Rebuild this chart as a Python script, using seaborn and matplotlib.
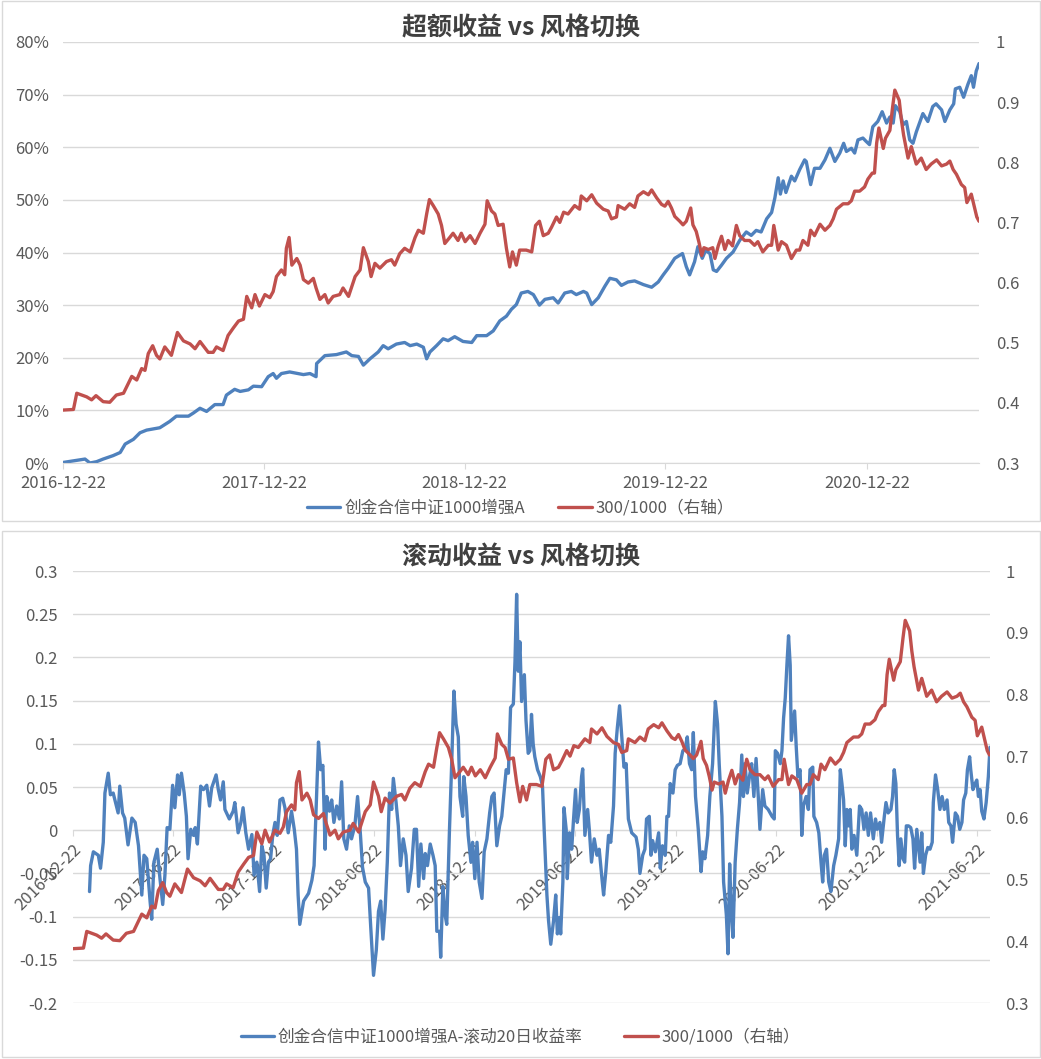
import numpy as np
import pandas as pd
import seaborn as sns
import matplotlib.pyplot as plt
import matplotlib.dates as mdates
from matplotlib.patches import Rectangle
from matplotlib.ticker import FuncFormatter

start = pd.Timestamp('2016-12-22')

# 300/1000 ratio (right axis in both panels), calendar days after start
ratio_day = [0, 19, 25, 43, 52, 60, 73, 85, 97, 110, 125, 134, 143, 149, 155, 163, 170, 176, 185, 197,
             208, 219, 231, 240, 249, 264, 273, 279, 291, 300, 310, 319, 328, 334, 343, 349, 357, 367, 376, 382,
             388, 397, 403, 406, 411, 416,
             425, 431, 437, 446, 455, 460, 467, 476, 482, 491, 503, 509, 519, 531, 540, 546, 555, 560, 567, 576,
             588, 597, 603, 612, 621, 631, 640, 646, 655, 661, 666, 673, 682, 688, 694, 703, 709, 718, 724, 731,
             740, 749, 758, 767, 771, 779, 785, 791, 800, 806, 812, 817, 824, 830,
             842, 852, 859, 866, 873, 882, 888, 897, 903, 910, 918, 930, 939, 942, 952, 961, 970, 982, 991, 997,
             1006, 1009, 1021, 1030, 1039, 1045, 1055, 1064, 1070, 1079, 1088, 1094, 1100, 1106, 1112, 1121, 1127, 1133, 1141, 1145,
             1151, 1156, 1161, 1165, 1173, 1181, 1185, 1191, 1197, 1203, 1209, 1217, 1224, 1230, 1239, 1248,
             1257, 1263, 1272, 1282, 1288, 1292, 1300, 1306, 1315, 1324, 1333, 1339, 1345, 1354, 1359, 1366, 1376, 1385, 1394, 1400,
             1406, 1418, 1427, 1433, 1439, 1448, 1457, 1463, 1471, 1475, 1479, 1483, 1491, 1495, 1503, 1508, 1512, 1520, 1524, 1528,
             1536, 1542, 1551, 1560, 1569, 1578, 1588, 1597, 1606, 1612, 1618, 1624, 1633, 1639, 1643, 1651, 1656, 1661, 1665]
ratio_val = [0.388, 0.389, 0.416, 0.410, 0.405, 0.412, 0.402, 0.401, 0.413, 0.416, 0.444, 0.438, 0.457, 0.454, 0.482, 0.495, 0.479, 0.473, 0.493, 0.479,
             0.517, 0.503, 0.498, 0.490, 0.502, 0.484, 0.484, 0.493, 0.487, 0.512, 0.525, 0.536, 0.539, 0.577, 0.558, 0.580, 0.561, 0.580, 0.575, 0.585,
             0.610, 0.621, 0.613, 0.657, 0.675, 0.629,
             0.640, 0.629, 0.605, 0.599, 0.607, 0.591, 0.572, 0.580, 0.566, 0.577, 0.580, 0.591, 0.577, 0.610, 0.621, 0.658, 0.635, 0.610, 0.632, 0.624,
             0.635, 0.638, 0.629, 0.648, 0.657, 0.651, 0.675, 0.687, 0.682, 0.714, 0.738, 0.728, 0.714, 0.695, 0.665, 0.675, 0.682, 0.670, 0.682, 0.668,
             0.678, 0.665, 0.682, 0.697, 0.736, 0.719, 0.714, 0.695, 0.697, 0.657, 0.626, 0.651, 0.629, 0.654,
             0.654, 0.651, 0.695, 0.702, 0.678, 0.682, 0.692, 0.709, 0.700, 0.717, 0.714, 0.728, 0.722, 0.744, 0.736, 0.746, 0.732, 0.722, 0.719, 0.706,
             0.709, 0.728, 0.722, 0.731, 0.725, 0.744, 0.751, 0.746, 0.754, 0.741, 0.730, 0.727, 0.735, 0.724, 0.710, 0.702, 0.696, 0.702, 0.724, 0.696,
             0.685, 0.667, 0.645, 0.658, 0.655, 0.658, 0.640, 0.661, 0.677, 0.655, 0.670, 0.661, 0.695, 0.678, 0.670, 0.670,
             0.662, 0.668, 0.651, 0.662, 0.662, 0.695, 0.654, 0.668, 0.662, 0.640, 0.654, 0.654, 0.670, 0.662, 0.687, 0.678, 0.697, 0.687, 0.695, 0.706,
             0.722, 0.731, 0.731, 0.736, 0.752, 0.752, 0.759, 0.772, 0.782, 0.782, 0.832, 0.857, 0.823, 0.840, 0.853, 0.892, 0.920, 0.903, 0.870, 0.845,
             0.807, 0.826, 0.797, 0.807, 0.788, 0.797, 0.804, 0.794, 0.797, 0.802, 0.788, 0.780, 0.763, 0.758, 0.733, 0.747, 0.728, 0.709, 0.702]

# cumulative excess return of the fund, %
excess_day = [0, 19, 40, 49, 61, 73, 91, 104, 113, 128, 140, 152, 176, 194, 206, 228, 237, 249, 261, 276,
              291, 297, 312, 322, 337, 346, 361, 373, 382, 388, 397, 412,
              437, 449, 460, 461, 476, 497, 515, 525, 537, 546, 558, 573, 582, 591, 606, 621, 631, 643, 655, 661,
              667, 679, 691, 700, 712, 727, 743, 752, 770, 782, 794, 806, 815, 824, 833,
              845, 855, 866, 876, 891, 900, 912, 924, 933, 946, 952, 961, 973, 985, 994, 1006, 1015, 1027, 1039, 1055,
              1070, 1082, 1091, 1100, 1112, 1126, 1133, 1139, 1148, 1154, 1162, 1168, 1176, 1182, 1188, 1197, 1206, 1218, 1230, 1242, 1251,
              1260, 1269, 1279, 1288, 1294, 1300, 1304, 1309, 1314, 1324, 1330, 1339, 1348, 1351, 1359, 1366, 1376, 1385, 1394, 1403,
              1412, 1419, 1424, 1433, 1439, 1445, 1454, 1460, 1466, 1472, 1481, 1489, 1497, 1503, 1509, 1513, 1521, 1527, 1533, 1539,
              1545, 1551, 1563, 1572, 1581, 1587, 1597, 1603, 1612, 1619, 1622, 1630, 1637, 1645, 1651, 1655, 1660, 1665]
excess_pct = [0.1, 0.4, 0.75, 0.0, 0.25, 0.75, 1.4, 2.0, 3.6, 4.5, 5.75, 6.25, 6.7, 7.9, 8.9, 8.9, 9.5, 10.4, 9.8, 11.1,
              11.1, 12.9, 14.0, 13.6, 13.9, 14.6, 14.5, 16.4, 17.0, 16.1, 17.0, 17.3,
              16.8, 17.0, 16.4, 18.9, 20.4, 20.6, 21.1, 20.4, 20.25, 18.6, 19.8, 21.1, 22.3, 21.7, 22.6, 22.9, 22.3, 22.6, 22.0, 19.8,
              21.1, 22.3, 23.6, 23.25, 24.0, 23.1, 22.9, 24.2, 24.2, 25.1, 27.0, 27.9, 29.2, 30.1, 32.3,
              32.6, 32.0, 30.0, 31.1, 31.4, 30.4, 32.3, 32.6, 32.0, 32.6, 32.3, 30.1, 31.4, 33.6, 35.1, 34.8, 33.75, 34.4, 34.6, 33.9,
              33.4, 34.4, 35.75, 37.0, 38.9, 39.8, 37.3, 35.75, 38.25, 41.1, 38.9, 40.4, 39.8, 36.7, 36.4, 37.6, 38.9, 40.1, 42.3, 43.9, 43.25,
              44.2, 43.9, 46.4, 47.6, 50.4, 54.2, 51.1, 53.6, 51.4, 54.5, 53.6, 55.75, 57.6, 57.3, 52.9, 56.0, 56.0, 57.6, 59.8, 57.3,
              58.9, 60.75, 59.2, 59.8, 58.9, 61.4, 61.75, 61.1, 60.5, 63.9, 64.9, 66.75, 64.6, 65.75, 64.6, 67.9, 66.75, 64.25, 64.9, 61.4,
              60.75, 62.9, 66.4, 64.9, 67.75, 68.25, 67.1, 64.9, 67.1, 68.25, 71.1, 71.4, 69.5, 72.0, 73.6, 71.4, 74.5, 75.9]

# rolling 20-day return of the fund
roll_day = [30, 32, 37, 46, 50, 55, 58, 64, 68, 73, 78, 82, 85, 90, 94, 100, 107, 113, 119, 125,
            129, 134, 140, 143, 147, 153, 158, 163, 167, 171, 176, 181, 185, 190, 193, 197, 202, 206, 209, 214,
            219, 222, 226, 232, 237, 243, 248, 252, 260, 264, 268, 273, 276, 284, 291, 294, 300, 305, 309, 314,
            319, 325, 329, 334, 339, 343, 347, 351, 355, 359, 363, 367, 371, 376, 381, 385, 391, 397, 402, 406, 409,
            412, 419, 428, 434, 438, 442, 446, 450, 454, 458, 461, 466, 470, 474, 479, 484, 488, 492, 497, 502,
            506, 512, 517, 522, 526, 531, 537, 541, 546, 551, 555, 559, 563, 567, 571, 575, 579, 582, 587, 591,
            595, 600, 605, 609, 615, 620, 624, 628, 632, 637, 640, 644, 649, 654, 658, 661, 666, 668, 672, 676,
            679, 684, 688, 692, 696, 700, 703, 708, 710, 714, 718, 723, 726, 730, 734, 738, 743, 747, 752, 757,
            761, 765, 770, 775, 779, 783, 787, 791, 795, 800, 803, 806, 809, 812, 815, 820, 823, 827,
            830, 833, 836, 839, 844, 849, 853, 856, 861, 864, 868, 873, 877, 880, 884, 886, 890, 892, 896, 898,
            902, 906, 909, 913, 916, 920, 924, 926, 930, 935, 938, 942, 947, 952, 956, 961, 964, 968, 973, 977,
            982, 985, 989, 993, 997, 1001, 1005, 1009, 1015, 1023, 1027, 1030, 1035, 1039, 1042, 1047, 1050, 1053, 1058, 1061,
            1064, 1067, 1071, 1076, 1079, 1082, 1085, 1090, 1094, 1098, 1103, 1108, 1112, 1116, 1120, 1124, 1127, 1131, 1136, 1141,
            1144, 1148, 1153, 1157, 1162, 1167, 1171, 1174, 1179, 1182, 1187, 1190, 1193, 1196, 1199, 1203, 1207, 1211, 1215, 1218,
            1221, 1225, 1229, 1233, 1237, 1241, 1245, 1248,
            1253, 1257, 1263, 1270, 1274, 1276, 1280, 1285, 1288, 1291, 1294, 1297, 1300, 1303, 1305, 1307, 1311, 1314, 1317, 1321,
            1324, 1327, 1332, 1336, 1339, 1344, 1346, 1351, 1355, 1359, 1362, 1365, 1369, 1373, 1377, 1382, 1386, 1391, 1394, 1397,
            1400, 1403, 1406, 1409, 1412, 1415, 1419, 1424, 1429, 1433, 1437, 1441, 1445, 1449, 1454, 1458, 1461, 1466, 1469, 1474,
            1477, 1481, 1486, 1489, 1492, 1495, 1498, 1501, 1504, 1508, 1511, 1514, 1518, 1522, 1526, 1529, 1533, 1536, 1539, 1542,
            1545, 1549, 1553, 1557, 1561, 1563, 1567, 1571, 1575, 1579, 1583, 1588, 1591, 1595, 1598, 1603, 1607, 1611, 1615, 1618,
            1622, 1625, 1629, 1631, 1635, 1639, 1642, 1645, 1648, 1651, 1655, 1659, 1663, 1666]
roll_val = [-0.071, -0.041, -0.025, -0.029, -0.044, -0.014, 0.043, 0.066, 0.041, 0.043, 0.030, 0.020, 0.051, 0.020, 0.014, -0.017, 0.014, 0.009, -0.018, -0.075,
            -0.029, -0.033, -0.082, -0.103, -0.037, -0.022, -0.056, -0.086, -0.052, 0.003, 0.001, 0.052, 0.026, 0.064, 0.041, 0.066, 0.043, 0.016, -0.033, 0.001,
            -0.006, 0.003, -0.016, 0.051, 0.047, 0.052, 0.028, 0.049, 0.064, 0.047, 0.035, 0.056, 0.024, 0.013, 0.022, 0.032, -0.003, 0.009, 0.026, -0.003,
            -0.022, -0.005, -0.052, -0.037, -0.071, -0.018, -0.029, -0.067, -0.037, -0.033, -0.005, 0.009, -0.006, 0.035, 0.037, 0.026, -0.003, 0.022, 0.001, -0.022, -0.075,
            -0.109, -0.082, -0.073, -0.058, -0.041, 0.032, 0.102, 0.070, 0.075, -0.022, 0.039, 0.022, 0.035, 0.009, 0.028, 0.013, 0.056, -0.010, -0.022, 0.005,
            -0.010, 0.005, 0.039, -0.003, -0.043, -0.060, -0.067, -0.113, -0.168, -0.139, -0.094, -0.082, -0.126, -0.092, -0.037, 0.043, 0.024, 0.060, 0.032, 0.005,
            -0.041, -0.010, -0.029, -0.071, -0.044, 0.001, 0.001, -0.065, -0.016, -0.056, -0.027, -0.041, -0.016, -0.029, -0.041, -0.117, -0.117, -0.147, -0.065, -0.098,
            -0.109, 0.001, 0.077, 0.161, 0.123, 0.108, 0.039, 0.016, 0.062, 0.039, -0.006, -0.037, -0.014, -0.056, -0.014, -0.060, -0.079, -0.025, -0.010, 0.020,
            0.039, 0.043, -0.018, 0.005, 0.016, 0.043, 0.070, 0.066, 0.142, 0.146, 0.195, 0.273, 0.184, 0.218, 0.149, 0.180, 0.127, 0.089,
            0.092, 0.134, 0.100, 0.085, 0.070, 0.062, 0.051, 0.001, -0.075, -0.105, -0.132, -0.105, -0.075, -0.120, -0.101, -0.120, -0.060, 0.026, 0.001, -0.056,
            -0.003, -0.022, 0.009, 0.047, 0.009, 0.024, 0.062, 0.071, -0.006, 0.024, 0.001, -0.037, -0.010, -0.029, -0.022, -0.056, -0.075, -0.048, -0.006, -0.014,
            0.028, 0.089, 0.119, 0.144, 0.108, 0.073, 0.077, 0.013, -0.003, -0.008, -0.022, -0.050, -0.029, -0.022, 0.013, 0.016, -0.029, -0.012, -0.025, -0.014,
            -0.003, -0.044, -0.018, -0.029, 0.016, 0.016, 0.054, 0.043, 0.070, 0.075, 0.077, 0.092, 0.094, 0.108, 0.077, 0.070, 0.113, 0.039, 0.001, -0.048,
            -0.025, -0.033, -0.006, 0.039, 0.077, 0.149, 0.123, 0.077, 0.016, -0.060, -0.098, -0.143, -0.039, -0.094, -0.124, -0.037, 0.001, 0.032, 0.087, 0.039,
            0.077, 0.043, 0.062, 0.077, 0.039, 0.083, 0.039, 0.001,
            0.047, 0.028, 0.024, 0.016, 0.013, 0.092, 0.089, 0.077, 0.092, 0.130, 0.153, 0.191, 0.225, 0.191, 0.104, 0.115, 0.138, 0.096, 0.062, 0.070,
            -0.006, 0.028, 0.039, 0.024, 0.070, 0.073, 0.016, 0.009, -0.003, -0.037, -0.060, -0.029, -0.022, -0.060, -0.071, -0.041, -0.029, -0.010, 0.070, 0.054,
            0.035, -0.018, 0.024, 0.005, 0.024, -0.022, -0.006, -0.029, 0.028, 0.024, 0.001, 0.020, -0.006, 0.020, -0.010, 0.013, 0.001, 0.009, -0.014, 0.016,
            0.032, 0.020, 0.024, 0.039, 0.070, 0.054, -0.006, -0.041, -0.010, -0.033, -0.037, 0.005, 0.005, 0.003, -0.010, -0.044, 0.001, -0.018, -0.037, -0.003,
            -0.050, -0.029, -0.020, -0.022, -0.014, 0.032, 0.064, 0.047, 0.024, 0.039, 0.024, 0.035, 0.009, 0.005, -0.014, 0.020, 0.016, 0.001, 0.009, 0.035,
            0.043, 0.070, 0.085, 0.070, 0.047, 0.054, 0.058, 0.039, 0.047, 0.022, 0.013, 0.032, 0.062, 0.096]

top_ticks = ['2016-12-22', '2017-12-22', '2018-12-22', '2019-12-22', '2020-12-22']
bottom_ticks = ['2016-12-22', '2017-06-22', '2017-12-22', '2018-06-22', '2018-12-22',
                '2019-06-22', '2019-12-22', '2020-06-22', '2020-12-22', '2021-06-22']

name_fund = '创金合信中证1000增强A'
name_roll = '创金合信中证1000增强A-滚动20日收益率'
name_ratio = '300/1000（右轴）'

BLUE = '#4F81BD'
RED = '#C0504D'
GRID = '#D9D9D9'
TXT = '#595959'

sns.set_style('white')
plt.rcParams['font.family'] = ['Noto Sans CJK SC', 'DejaVu Sans']
plt.rcParams['axes.unicode_minus'] = False

ratio = pd.DataFrame({'date': start + pd.to_timedelta(ratio_day, unit='D'), 'v': ratio_val})
excess = pd.DataFrame({'date': start + pd.to_timedelta(excess_day, unit='D'), 'v': excess_pct})
roll = pd.DataFrame({'date': start + pd.to_timedelta(roll_day, unit='D'), 'v': roll_val})

W, H = 1041, 1059
fig = plt.figure(figsize=(W / 100, H / 100), dpi=100)


def box(x0, y0, x1, y1):
    # pixel box (top-left origin) -> figure fraction rect
    return [x0 / W, 1 - y1 / H, (x1 - x0) / W, (y1 - y0) / H]


# panel frames
for y0, y1 in [(1, 521), (531, 1057)]:
    fig.add_artist(Rectangle((1.5 / W, 1 - y1 / H), (W - 3) / W, (y1 - y0) / H,
                             transform=fig.transFigure, fill=False, ec=GRID, lw=1))


def style(ax, axr, pad_l, pad_r):
    for a in (ax, axr):
        for s in ['left', 'right', 'top']:
            a.spines[s].set_visible(False)
        a.set_xlabel('')
        a.set_ylabel('')
    axr.spines['bottom'].set_visible(False)
    ax.spines['bottom'].set_color(GRID)
    ax.grid(axis='y', color=GRID, lw=1)
    ax.grid(axis='x', visible=False)
    axr.grid(False)
    ax.tick_params(axis='y', length=0, pad=pad_l, labelsize=12, labelcolor=TXT)
    axr.tick_params(axis='y', length=0, pad=pad_r, labelsize=12, labelcolor=TXT)
    ax.tick_params(axis='x', length=4, color=GRID, labelsize=12, labelcolor=TXT, bottom=True)


def num(v, p):
    return f'{round(v, 2) + 0:g}'


# ---------------- top panel ----------------
ax1 = fig.add_axes(box(63, 42, 979, 463))
sns.lineplot(data=excess, x='date', y='v', ax=ax1, color=BLUE, lw=2.4, label=name_fund)
ax1r = ax1.twinx()
sns.lineplot(data=ratio, x='date', y='v', ax=ax1r, color=RED, lw=2.4, label=name_ratio)

ax1.set_xlim(start, excess['date'].max())
ax1.set_ylim(0, 80)
ax1.set_yticks(np.arange(0, 81, 10))
ax1.yaxis.set_major_formatter(FuncFormatter(lambda v, p: f'{v:.0f}%'))
ax1r.set_ylim(0.3, 1.0)
ax1r.set_yticks(np.round(np.arange(0.3, 1.01, 0.1), 1))
ax1r.yaxis.set_major_formatter(FuncFormatter(num))
ax1.set_xticks(pd.to_datetime(top_ticks))
ax1.xaxis.set_major_formatter(mdates.DateFormatter('%Y-%m-%d'))
style(ax1, ax1r, 10, 12)
ax1.tick_params(axis='x', pad=5)

h1, l1 = ax1.get_legend_handles_labels()
h2, l2 = ax1r.get_legend_handles_labels()
ax1.get_legend().remove()
ax1r.get_legend().remove()
fig.legend(h1 + h2, l1 + l2, loc='center', bbox_to_anchor=(0.5, 1 - 508 / H), ncol=2,
           frameon=False, fontsize=12, labelcolor=TXT, handlelength=2.0, handletextpad=0.25,
           columnspacing=2.0)
fig.text(0.5, 1 - 28 / H, '超额收益 vs 风格切换', ha='center', va='center',
         fontsize=18, fontweight='bold', color='#404040')

# ---------------- bottom panel ----------------
ax2 = fig.add_axes(box(73, 571, 990, 1003))
sns.lineplot(data=roll, x='date', y='v', ax=ax2, color=BLUE, lw=2.4, label=name_roll, zorder=3)
ax2r = ax2.twinx()
sns.lineplot(data=ratio, x='date', y='v', ax=ax2r, color=RED, lw=2.4, label=name_ratio)

ax2.set_xlim(start, roll['date'].max())
ax2.set_ylim(-0.2, 0.3)
ax2.set_yticks(np.round(np.arange(-0.2, 0.31, 0.05), 2))
ax2.yaxis.set_major_formatter(FuncFormatter(num))
ax2r.set_ylim(0.3, 1.0)
ax2r.set_yticks(np.round(np.arange(0.3, 1.01, 0.1), 1))
ax2r.yaxis.set_major_formatter(FuncFormatter(num))
ax2.spines['bottom'].set_position(('data', 0))
ax2.set_xticks(pd.to_datetime(bottom_ticks))
ax2.set_xticklabels(bottom_ticks, rotation=45, ha='right', rotation_mode='anchor')
style(ax2, ax2r, 11, 11)
ax2.tick_params(axis='x', pad=4)

h1, l1 = ax2.get_legend_handles_labels()
h2, l2 = ax2r.get_legend_handles_labels()
ax2.get_legend().remove()
ax2r.get_legend().remove()
fig.legend(h1 + h2, l1 + l2, loc='center', bbox_to_anchor=(0.5, 1 - 1037 / H), ncol=2,
           frameon=False, fontsize=12, labelcolor=TXT, handlelength=2.0, handletextpad=0.25,
           columnspacing=2.5)
fig.text(0.5, 1 - 557 / H, '滚动收益 vs 风格切换', ha='center', va='center',
         fontsize=18, fontweight='bold', color='#404040')

fig.savefig('out.png', dpi=100, facecolor='white')
